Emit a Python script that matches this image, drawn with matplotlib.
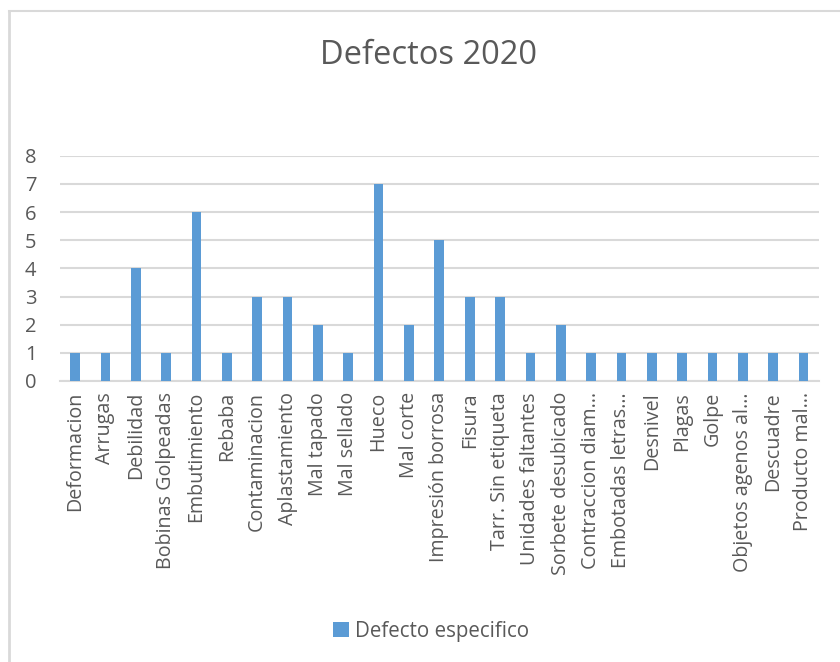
import numpy as np
import matplotlib
matplotlib.use("Agg")
import matplotlib.pyplot as plt
from matplotlib.lines import Line2D

defectos = ["Deformacion", "Arrugas", "Debilidad", "Bobinas Golpeadas", "Embutimiento",
            "Rebaba", "Contaminacion", "Aplastamiento", "Mal tapado", "Mal sellado",
            "Hueco", "Mal corte", "Impresión borrosa", "Fisura", "Tarr. Sin etiqueta",
            "Unidades faltantes", "Sorbete desubicado", "Contraccion diam…",
            "Embotadas letras…", "Desnivel", "Plagas", "Golpe", "Objetos agenos al…",
            "Descuadre", "Producto mal…"]
cantidad = [1, 1, 4, 1, 6, 1, 3, 3, 2, 1, 7, 2, 5, 3, 3, 1, 2, 1, 1, 1, 1, 1, 1, 1, 1]
serie = "Defecto especifico"
titulo = "Defectos 2020"

plt.rcParams['font.family'] = ['Open Sans', 'DejaVu Sans']
gris = "#595959"
linea = "#d9d9d9"

fig = plt.figure(figsize=(8.4, 6.62), dpi=100)
ax = fig.add_axes([0.0714, 0.4245, 0.9032, 0.3403])

x = np.arange(len(defectos))
ax.bar(x, cantidad, width=0.32, color="#5b9bd5", label=serie, zorder=3)

ax.set_xlim(-0.5, len(defectos) - 0.5)
ax.set_ylim(0, 8)
ax.set_yticks(np.arange(0, 9, 1))
ax.grid(axis="y", color=linea, linewidth=1.5, zorder=0)
for s in ["left", "right", "top"]:
    ax.spines[s].set_visible(False)
ax.spines["bottom"].set_color(linea)
ax.spines["bottom"].set_linewidth(1.5)

ax.set_xticks(x)
ax.set_xticklabels(defectos, rotation=90, fontsize=14.2, color=gris)
ax.tick_params(axis="x", length=0, pad=8)
ax.tick_params(axis="y", length=0, labelsize=14.5, labelcolor=gris, pad=17)

fig.text(428 / 840, 1 - 55 / 662, titulo, ha="center", va="center",
         fontsize=23.5, color=gris)

fig.legend(loc="center", bbox_to_anchor=(431 / 840, 1 - 631 / 662), frameon=False,
           fontsize=14.8, labelcolor=gris, handlelength=0.75, handleheight=0.75,
           handletextpad=0.3)

# chart border
fig.add_artist(Line2D([9 / 840, 9 / 840], [0, 1 - 11 / 662], color=linea, linewidth=2,
                      transform=fig.transFigure))
fig.add_artist(Line2D([9 / 840, 1], [1 - 11 / 662, 1 - 11 / 662], color=linea, linewidth=1.5,
                      transform=fig.transFigure))

fig.savefig("out.png", dpi=100, facecolor="white")
